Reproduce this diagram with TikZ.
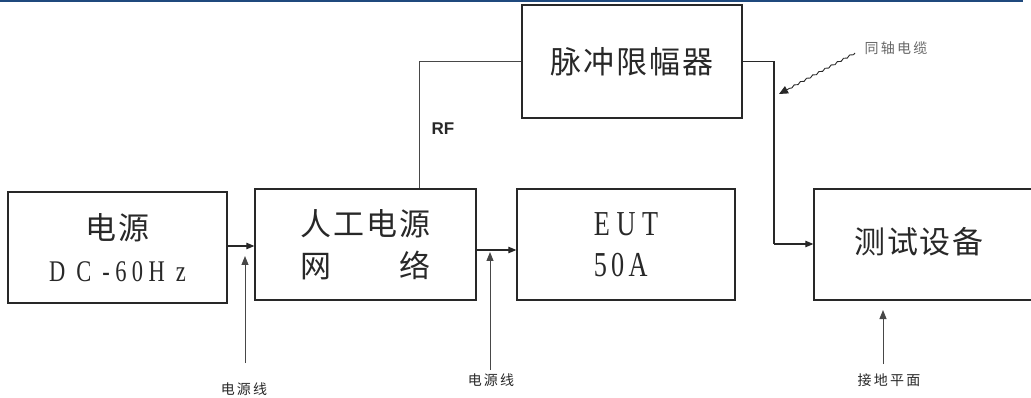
\documentclass[tikz,border=0pt]{standalone}
\usepackage{fontspec}
\usetikzlibrary{arrows.meta,decorations.pathmorphing,calc}
\newfontfamily\cjk[LetterSpace=6]{Noto Sans CJK SC}
\newfontfamily\cjks[LetterSpace=16]{Noto Sans CJK SC}
\newfontfamily\cond[FakeStretch=0.75]{Liberation Serif}
\newfontfamily\rffont{Liberation Sans}
\definecolor{topblue}{RGB}{31,73,125}
\definecolor{ink}{RGB}{40,40,40}
\begin{document}
\begin{tikzpicture}[x=1pt,y=-1pt,
 box/.style={draw=ink,line width=1.3pt,inner sep=0pt,text=ink},
 arr/.style={draw=ink,line width=1.1pt,-{Triangle[length=8pt,width=6.5pt]}},
 uparr/.style={draw=black!72,line width=1pt,-{Triangle[length=9pt,width=7pt]}},
 rfline/.style={draw=black!72,line width=1pt},
 small/.style={font=\cjks\fontsize{14}{16}\selectfont,text=ink,inner sep=0pt},
 big/.style={font=\cjk\fontsize{31}{42}\selectfont}
]
\clip (0,0) rectangle (1031,398);
\draw[topblue,line width=2pt] (0,1) -- (1023,1);

\node[box,minimum width=219pt,minimum height=111pt,align=center,big] (b1) at (117.5,247.5)
  {电源\\{\cond\addfontfeature{LetterSpace=18}\fontsize{30}{42}\selectfont D C -60H z}};
\node[box,minimum width=221pt,minimum height=111pt,align=center,big] (b2) at (365.5,244.5)
  {人工电源\\\makebox[131pt]{网\hfill 络}};
\node[box,minimum width=218pt,minimum height=111pt,align=left,font=\cond\fontsize{35}{41}\selectfont] (b3) at (626,244.5)
  {E U T\\{\addfontfeature{LetterSpace=12}50A}};
\node[box,minimum width=231pt,minimum height=111pt] (b4) at (929.5,244.5) {};
\node[big,text=ink,inner sep=0pt] (b4t) at (919,242) {测试设备};
\node[box,minimum width=220pt,minimum height=113pt,big] (b5) at (632,61.5) {脉冲限幅器};

\node[font=\rffont\bfseries\fontsize{17}{20}\selectfont,text=ink,inner sep=0pt] (rf) at (443,129) {RF};

\node[small] (l1) at (244,389) {电源线};
\node[small] (l2) at (491,380) {电源线};
\node[small] (l3) at (889,380) {接地平面};
\node[small,text=black!60] (l4) at (896,48) {同轴电缆};

% power connections
\draw[arr] ([yshift=1.5pt]b1.east) -- ([yshift=1.5pt]b1.east -| b2.west);
\draw[arr] ([yshift=-5.5pt]b2.east) -- ([yshift=-5.5pt]b2.east -| b3.west);

% RF path
\draw[rfline] ([xshift=53.5pt]b2.north) |- (b5.west);

% coax to test equipment
\coordinate (cx) at (774,244);
\draw[ink,line width=1.1pt] (b5.east) -| (cx);
\draw[arr] (cx) -- (cx -| b4.west);

% pointer arrows
\coordinate (t1) at (245,256); \coordinate (s1) at (245,363);
\coordinate (t2) at (490,252); \coordinate (s2) at (490,370);
\coordinate (t3) at (883,310); \coordinate (s3) at (883,364);
\draw[uparr] (s1) -- (t1);
\draw[uparr] (s2) -- (t2);
\draw[uparr] (s3) -- (t3);

\coordinate (ct) at (855,53); \coordinate (cp) at (779,94);
\draw[ink,line width=0.9pt,decorate,decoration={snake,amplitude=0.8pt,segment length=7pt,post length=9pt},-{Triangle[length=9pt,width=8pt]}] (ct) -- (cp);
\end{tikzpicture}
\end{document}
